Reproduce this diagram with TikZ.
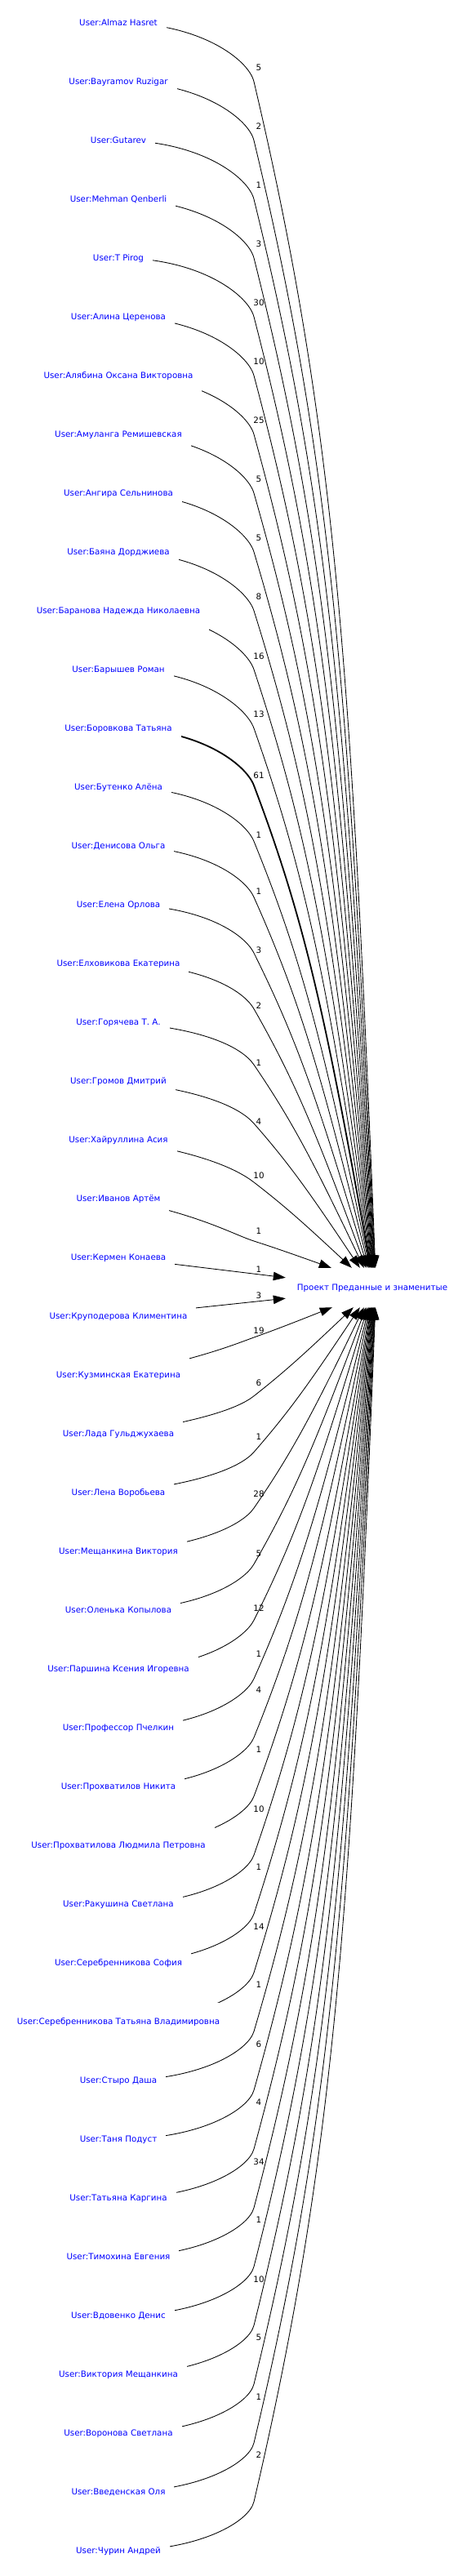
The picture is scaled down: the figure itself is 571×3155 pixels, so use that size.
\documentclass[tikz,border=0pt]{standalone}
\usepackage{fontspec}
\setmainfont{DejaVu Sans}
\usetikzlibrary{arrows.meta}
\pgfdeclarelayer{bgl}
\pgfdeclarelayer{edgel}
\pgfsetlayers{bgl,edgel,main}
\definecolor{nodeblue}{RGB}{0,0,255}
\newcommand{\gfont}{\fontsize{10.3}{12}\selectfont}
\tikzset{
  user/.style={inner xsep=11pt, inner ysep=0pt, minimum height=47pt, fill=white,
    text=nodeblue, font=\gfont, text height=7.5pt, text depth=0pt},
  target/.style={inner sep=0pt, minimum width=212pt, minimum height=48pt,
    text=nodeblue, font=\gfont, text height=7.5pt, text depth=0pt},
  elabel/.style={inner sep=0pt, text=black, font=\gfont, text height=7.5pt, text depth=0pt},
  edge/.style={draw=black, line width=0.85pt, -{Triangle[length=15pt,width=10.5pt]}},
}
\begin{document}
\begin{tikzpicture}[x=1pt,y=-1pt]
\begin{pgfonlayer}{bgl}
\fill[white] (0,0) rectangle (571,3155);
\end{pgfonlayer}
\useasboundingbox (0,0) rectangle (571,3155);
\node[target] (t) at (456,1577) {Проект Преданные и знаменитые};
\foreach \i/\nm/\yy/\lab/\ly in {
 1/Almaz Hasret/28/5/83,
 2/Bayramov Ruzigar/100/2/155,
 3/Gutarev/172/1/227,
 4/Mehman Qenberli/244/3/299,
 5/T Pirog/316/30/371,
 6/Алина Церенова/388/10/443,
 7/Алябина Оксана Викторовна/460/25/515,
 8/Амуланга Ремишевская/532/5/587,
 9/Ангира Сельнинова/604/5/659,
 10/Баяна Дорджиева/676/8/731,
 11/Баранова Надежда Николаевна/748/16/804,
 12/Барышев Роман/820/13/875,
 13/Боровкова Татьяна/892/61/950,
 14/Бутенко Алёна/964/1/1023,
 15/Денисова Ольга/1036/1/1092,
 16/Елена Орлова/1108/3/1164,
 17/Елховикова Екатерина/1180/2/1232,
 18/Горячева Т. А./1252/1/1302,
 19/Громов Дмитрий/1324/4/1374,
 20/Хайруллина Асия/1396/10/1440,
 21/Иванов Артём/1468/1/1508,
 22/Кермен Конаева/1540/1/1555,
 23/Круподерова Климентина/1612/3/1587,
 24/Кузминская Екатерина/1684/19/1630,
 25/Лада Гульджухаева/1756/6/1694,
 26/Лена Воробьева/1828/1/1760,
 27/Мещанкина Виктория/1900/28/1830,
 28/Оленька Копылова/1972/5/1903,
 29/Паршина Ксения Игоревна/2044/12/1970,
 30/Профессор Пчелкин/2116/1/2026,
 31/Прохватилов Никита/2188/4/2070,
 32/Прохватилова Людмила Петровна/2260/1/2143,
 33/Ракушина Светлана/2332/10/2216,
 34/Серебренникова София/2404/1/2287,
 35/Серебренникова Татьяна Владимировна/2476/14/2360,
 36/Стыро Даша/2548/1/2431,
 37/Таня Подуст/2620/6/2504,
 38/Татьяна Каргина/2692/4/2575,
 39/Тимохина Евгения/2764/34/2648,
 40/Вдовенко Денис/2836/1/2719,
 41/Виктория Мещанкина/2908/10/2792,
 42/Воронова Светлана/2980/5/2863,
 43/Введенская Оля/3052/1/2936,
 44/Чурин Андрей/3124/2/3007}{
 \node[user] (u\i) at (145,\yy) {User:\nm};
 \node[elabel] (l\i) at (317,\ly) {\lab};
}
\begin{pgfonlayer}{edgel}
% edges from the upper users
\foreach \i/\xt/\lw in {1/460/0.85, 2/459.5/0.85, 3/459/0.85, 4/458.5/0.85, 5/458/0.85, 6/457.5/0.85,
  7/457/0.85, 8/456.5/0.85, 9/456/0.85, 10/455.5/0.85, 11/455/0.85, 12/454.5/0.85, 13/454/1.8,
  14/453/0.85, 15/452/0.85, 16/450.5/0.85, 17/448.5/0.85, 18/446/0.85, 19/441/0.85, 20/431/0.85, 21/406/0.85}{
  \pgfmathsetmacro\qyy{28+72*(\i-1)}
  \pgfmathsetmacro\qD{1553-\qyy}
  \pgfmathsetmacro\qh{52+20*min(1,max(0,(\qD-300)/400))}
  \pgfmathsetmacro\qyb{\qyy+\qh}
  \pgfmathsetmacro\qf{min(1,\qD/1525)}
  \pgfmathsetmacro\qs{(\xt-311)/(1553-\qyb)}
  \pgfmathsetmacro\qma{\qs*(1+1.3*\qf)}
  \pgfmathsetmacro\qmb{\qs*(1-0.6*\qf)}
  \pgfmathsetmacro\qna{sqrt(\qma*\qma+1)}
  \pgfmathsetmacro\qnb{sqrt(\qmb*\qmb+1)}
  \pgfmathsetmacro\qL{veclen(\xt-311,1553-\qyb)}
  \pgfmathsetmacro\qsg{0.25*max(0,1-\qD/400)}
  \pgfmathsetmacro\qay{\qyy+100*\qsg}
  \pgfmathsetmacro\qbx{311-27.5*\qma/\qna}
  \pgfmathsetmacro\qby{\qyb-27.5/\qna}
  \pgfmathsetmacro\qcx{311+0.3*\qL*\qma/\qna}
  \pgfmathsetmacro\qcy{\qyb+0.3*\qL/\qna}
  \pgfmathsetmacro\qdx{\xt-0.5*\qL*\qmb/\qnb}
  \pgfmathsetmacro\qdy{1553-0.5*\qL/\qnb}
  \pgfmathsetmacro\qsh{\xt-350}
  \draw[edge,line width=\lw pt] (u\i.center) .. controls (245,\qay) and (\qbx,\qby) .. (311,\qyb)
     .. controls (\qcx,\qcy) and (\qdx,\qdy) .. ([xshift=\qsh pt]t.north west);
}
% edges from the lower users
\foreach \i/\xt in {24/407, 25/433, 26/441, 27/446, 28/448.5, 29/450.5, 30/452,
  31/453, 32/454, 33/454.5, 34/455, 35/455.5, 36/456, 37/456.5, 38/457, 39/457.5,
  40/458, 41/458.5, 42/459, 43/459.5, 44/460}{
  \pgfmathsetmacro\qyy{28+72*(\i-1)}
  \pgfmathsetmacro\qD{\qyy-1601}
  \pgfmathsetmacro\qh{46+14*min(1,max(0,(\qD-150)/300))}
  \pgfmathsetmacro\qyb{\qyy-\qh}
  \pgfmathsetmacro\qf{min(1,\qD/1525)}
  \pgfmathsetmacro\qs{(\xt-311)/(\qyb-1601)}
  \pgfmathsetmacro\qma{\qs*(1+1.3*\qf)}
  \pgfmathsetmacro\qmb{\qs*(1-0.6*\qf)}
  \pgfmathsetmacro\qna{sqrt(\qma*\qma+1)}
  \pgfmathsetmacro\qnb{sqrt(\qmb*\qmb+1)}
  \pgfmathsetmacro\qL{veclen(\xt-311,\qyb-1601)}
  \pgfmathsetmacro\qsg{0.25*max(0,1-\qD/400)}
  \pgfmathsetmacro\qay{\qyy-100*\qsg}
  \pgfmathsetmacro\qbx{311-25*\qma/\qna}
  \pgfmathsetmacro\qby{\qyb+25/\qna}
  \pgfmathsetmacro\qcx{311+0.3*\qL*\qma/\qna}
  \pgfmathsetmacro\qcy{\qyb-0.3*\qL/\qna}
  \pgfmathsetmacro\qdx{\xt-0.5*\qL*\qmb/\qnb}
  \pgfmathsetmacro\qdy{1601+0.5*\qL/\qnb}
  \pgfmathsetmacro\qsh{\xt-350}
  \draw[edge] (u\i.center) .. controls (245,\qay) and (\qbx,\qby) .. (311,\qyb)
     .. controls (\qcx,\qcy) and (\qdx,\qdy) .. ([xshift=\qsh pt]t.south west);
}
% the two nearly straight middle edges
\draw[edge] (u22.center) -- ([yshift=-12pt]t.north west);
\draw[edge] (u23.center) -- ([yshift=11pt]t.south west);
\end{pgfonlayer}
\end{tikzpicture}
\end{document}
